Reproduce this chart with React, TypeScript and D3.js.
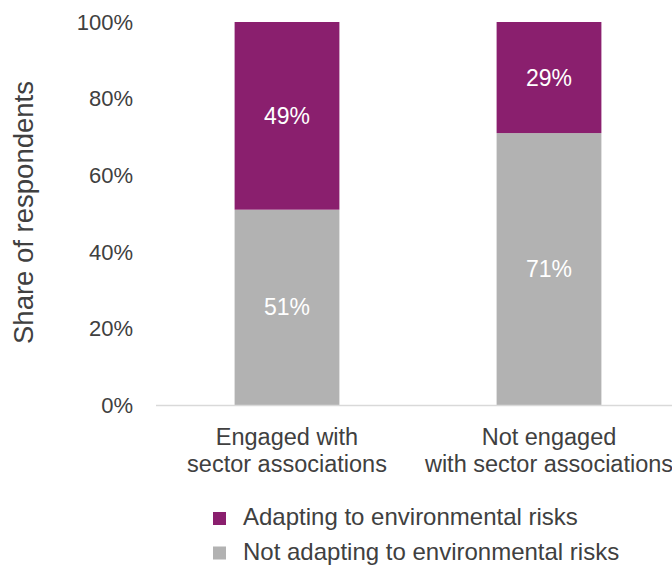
import React from "react";
import * as d3 from "d3";

const categories: string[][] = [
  ["Engaged with", "sector associations"],
  ["Not engaged", "with sector associations"],
];
const notAdapting: number[] = [51, 71];
const adapting: number[] = [49, 29];
const yTicks: number[] = [0, 20, 40, 60, 80, 100];
const seriesNames: string[] = ["Adapting to environmental risks", "Not adapting to environmental risks"];
const colors: string[] = ["#8A1F6E", "#B2B2B2"];

const W = 672;
const H = 567;
const FONT = "'Liberation Sans', Arial, Helvetica, sans-serif";
const TEXT = "#404040";

export default function App() {
  const x = d3.scaleBand<number>().domain([0, 1]).range([156, 680]).paddingInner(0.6).paddingOuter(0.3);
  const y = d3.scaleLinear().domain([0, 100]).range([405, 22]);
  const bw = x.bandwidth();

  return (
    <svg
      width={W}
      height={H}
      style={{ position: "fixed", left: 0, top: 0, background: "#fff" }}
      fontFamily={FONT}
    >
      {/* y tick labels */}
      {yTicks.map((t) => (
        <text key={t} x={133} y={y(t)} dy="0.35em" textAnchor="end" fontSize={22} fill={TEXT}>
          {t}%
        </text>
      ))}
      <text
        transform={`translate(33,${y(50) - 1}) rotate(-90)`}
        textAnchor="middle"
        fontSize={27.5}
        fill={TEXT}
      >
        Share of respondents
      </text>

      {/* bars */}
      {categories.map((c, i) => {
        const x0 = x(i) as number;
        const cx = x0 + bw / 2;
        return (
          <g key={i}>
            <rect x={x0} y={y(notAdapting[i])} width={bw} height={y(0) - y(notAdapting[i])} fill={colors[1]} />
            <rect
              x={x0}
              y={y(notAdapting[i] + adapting[i])}
              width={bw}
              height={y(notAdapting[i]) - y(notAdapting[i] + adapting[i])}
              fill={colors[0]}
            />
            <text
              x={cx}
              y={(y(0) + y(notAdapting[i])) / 2}
              dy="0.35em"
              textAnchor="middle"
              fontSize={23}
              fill="#fff"
            >
              {notAdapting[i]}%
            </text>
            <text
              x={cx}
              y={(y(notAdapting[i]) + y(notAdapting[i] + adapting[i])) / 2}
              dy="0.35em"
              textAnchor="middle"
              fontSize={23}
              fill="#fff"
            >
              {adapting[i]}%
            </text>
            {c.map((line, j) => (
              <text key={j} x={cx} y={445 + j * 27} textAnchor="middle" fontSize={23.5} fill={TEXT}>
                {line}
              </text>
            ))}
          </g>
        );
      })}

      {/* axis line */}
      <line x1={156} x2={W} y1={y(0) + 0.5} y2={y(0) + 0.5} stroke="#D9D9D9" strokeWidth={1.5} />

      {/* legend */}
      {seriesNames.map((s, i) => (
        <g key={s} transform={`translate(213,${512 + i * 34.5})`}>
          <rect x={0} y={0} width={13} height={13} fill={colors[i]} />
          <text x={30} y={13} fontSize={24} fill={TEXT}>
            {s}
          </text>
        </g>
      ))}
    </svg>
  );
}
